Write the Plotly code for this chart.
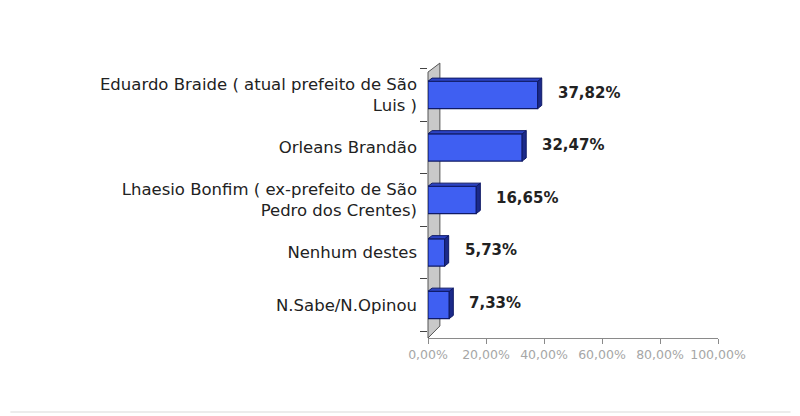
import plotly.graph_objects as go

# poll results
candidates = [
    "Eduardo Braide ( atual prefeito de São<br>Luis )",
    "Orleans Brandão",
    "Lhaesio Bonfim ( ex-prefeito de São<br>Pedro dos Crentes)",
    "Nenhum destes",
    "N.Sabe/N.Opinou",
]
percent = [37.82, 32.47, 16.65, 5.73, 7.33]
value_labels = ["37,82%", "32,47%", "16,65%", "5,73%", "7,33%"]
x_ticks = [0, 20, 40, 60, 80, 100]
x_tick_text = ["0,00%", "20,00%", "40,00%", "60,00%", "80,00%", "100,00%"]

BAR_W = 0.52
DX, DY = 1.4, 0.06   # fake 3d depth, in data units

FRONT = "#3f5ff2"
EDGE = "#0f1a66"
SIDE = "#1b2a8a"
TOP = "#2c43c4"

pos = list(range(len(candidates)))

fig = go.Figure()
fig.add_trace(go.Bar(
    x=percent,
    y=pos,
    orientation="h",
    width=BAR_W,
    marker=dict(color=FRONT, line=dict(color=EDGE, width=1.2)),
    hoverinfo="skip",
))

shapes = []
# the grey side wall of the category axis
shapes.append(dict(
    type="path", xref="paper", yref="paper", layer="below",
    path="M 0,0 L 0,0.974 L 0.041,1.007 L 0.041,0.044 Z",
    fillcolor="#c9c9c9", line=dict(color="#555555", width=1),
))
# faint separator line at the bottom of the page
shapes.append(dict(
    type="line", xref="paper", yref="paper",
    x0=-1.44, x1=1.25, y0=-0.271, y1=-0.271,
    line=dict(color="#ececec", width=2),
))
# side and top faces of every bar
for p, v in zip(pos, percent):
    y0 = p - BAR_W / 2
    y1 = p + BAR_W / 2
    shapes.append(dict(
        type="path", xref="x", yref="y",
        path="M {0},{1} L {2},{3} L {2},{4} L {0},{5} Z".format(
            v, y0, v + DX, y0 - DY, y1 - DY, y1),
        fillcolor=SIDE, line=dict(color=EDGE, width=1),
    ))
    shapes.append(dict(
        type="path", xref="x", yref="y",
        path="M 0,{0} L {1},{2} L {3},{2} L {4},{0} Z".format(
            y0, DX, y0 - DY, v + DX, v),
        fillcolor=TOP, line=dict(color=EDGE, width=1),
    ))

annotations = []
for p, v, t in zip(pos, percent, value_labels):
    annotations.append(dict(
        x=v, y=p, xref="x", yref="y", text=t, showarrow=False,
        xanchor="left", xshift=18, yshift=2,
        font=dict(family="DejaVu Sans", size=15, color="#222222", weight="bold"),
    ))

fig.update_layout(
    width=800, height=416,
    margin=dict(l=420, r=90, t=57, b=86),
    paper_bgcolor="white",
    plot_bgcolor="white",
    showlegend=False,
    shapes=shapes,
    annotations=annotations,
    font=dict(family="DejaVu Sans"),
)
fig.update_xaxes(
    range=[0, 100],
    tickvals=x_ticks,
    ticktext=x_tick_text,
    showgrid=False,
    zeroline=False,
    showline=True,
    linecolor="#8a8a8a",
    ticks="outside",
    ticklen=5,
    tickcolor="#8a8a8a",
    tickfont=dict(size=12.5, color="#a6a6a6"),
)
fig.update_yaxes(
    range=[4.63, -0.57],
    tickvals=pos,
    ticktext=candidates,
    ticks="",
    showgrid=False,
    zeroline=False,
    showline=False,
    ticklabelstandoff=10,
    tickfont=dict(size=16.5, color="#222222"),
    minor=dict(
        tickvals=[p - 0.5 for p in pos] + [pos[-1] + 0.5],
        ticks="outside", ticklen=7, tickcolor="#444444", showgrid=False,
    ),
)

fig.write_html("out.html")
